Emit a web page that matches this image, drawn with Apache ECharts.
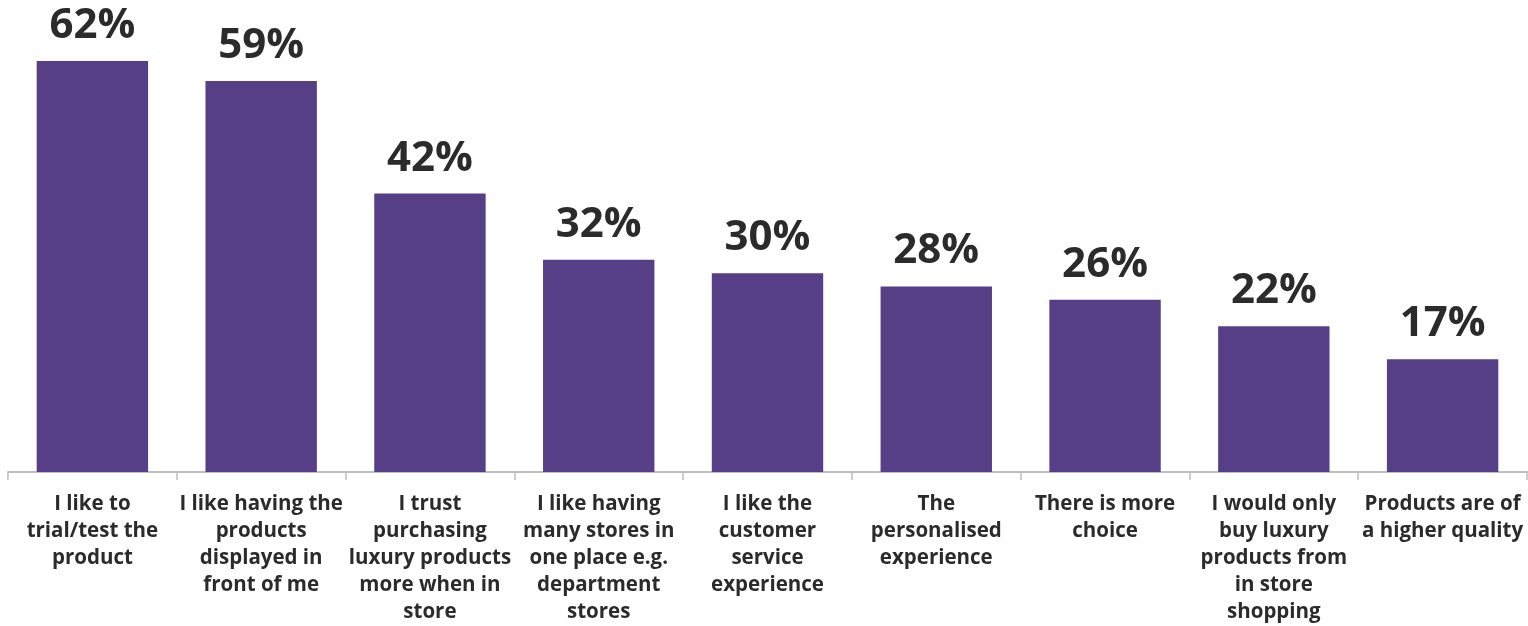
<!DOCTYPE html>
<html><head><meta charset="utf-8">
<script src="https://cdn.jsdelivr.net/npm/echarts@6/dist/echarts.min.js"></script>
<style>html,body{margin:0;padding:0;background:#fff}#c{width:1528px;height:626px}</style>
</head><body><div id="c"></div>
<script>
const categories = [
  "I like to\ntrial/test the\nproduct",
  "I like having the\nproducts\ndisplayed in\nfront of me",
  "I trust\npurchasing\nluxury products\nmore when in\nstore",
  "I like having\nmany stores in\none place e.g.\ndepartment\nstores",
  "I like the\ncustomer\nservice\nexperience",
  "The\npersonalised\nexperience",
  "There is more\nchoice",
  "I would only\nbuy luxury\nproducts from\nin store\nshopping",
  "Products are of\na higher quality"
];
const values = [62, 59, 42, 32, 30, 28, 26, 22, 17];

const chart = echarts.init(document.getElementById('c'));
chart.setOption({
  animation: false,
  grid: { left: 8, right: 1, top: 61, bottom: 148, containLabel: false },
  xAxis: {
    type: 'category',
    data: categories,
    axisLine: { lineStyle: { color: '#bfbfbf', width: 2 } },
    axisTick: { show: true, length: 8, lineStyle: { color: '#bfbfbf', width: 1.5 } },
    axisLabel: {
      interval: 0, margin: 19, color: '#2b2b2b',
      fontFamily: 'Open Sans', fontWeight: 'bold', fontSize: 20.5, lineHeight: 27, align: 'center'
    }
  },
  yAxis: { type: 'value', min: 0, max: 62, show: false, splitLine: { show: false } },
  series: [{
    type: 'bar',
    data: values,
    barCategoryGap: '34%',
    itemStyle: { color: '#563f87' },
    label: {
      show: true, position: 'top', distance: 14,
      formatter: p => p.value + '%',
      color: '#2b2b2b', fontFamily: 'Open Sans', fontWeight: 'bold', fontSize: 42
    }
  }]
});
</script></body></html>
